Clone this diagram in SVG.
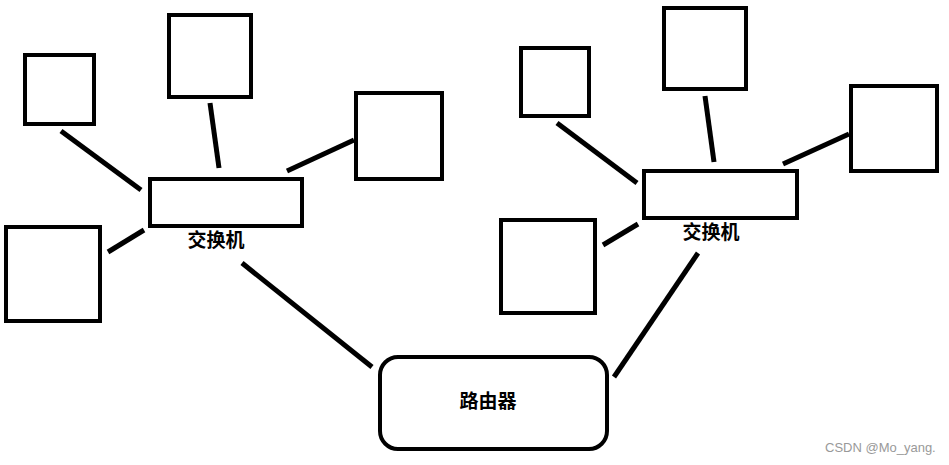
<svg xmlns="http://www.w3.org/2000/svg" width="949" height="465" viewBox="0 0 949 465">
<style>
.n{fill:#fff;stroke:#000;stroke-width:4}
.c line{stroke:#000;stroke-width:5;stroke-linecap:butt}
.t{font-family:"Noto Sans CJK SC","Noto Sans",sans-serif;font-weight:bold;font-size:19px;fill:#000;text-anchor:middle}
.w{font-family:"Liberation Sans",Arial,sans-serif;font-size:13px;fill:#999}
</style>
<rect width="949" height="465" fill="#fff"/>
<g class="c" id="connectors">
<line x1="61" y1="131" x2="141" y2="190"/>
<line x1="210" y1="103" x2="219" y2="168"/>
<line x1="287" y1="171" x2="354" y2="140"/>
<line x1="108" y1="252" x2="144" y2="230"/>
<line x1="242" y1="263" x2="372" y2="367"/>
<line x1="557" y1="123" x2="637" y2="183"/>
<line x1="705" y1="96" x2="714" y2="162"/>
<line x1="783" y1="164" x2="849" y2="134"/>
<line x1="603" y1="245" x2="638" y2="224"/>
<line x1="698" y1="253" x2="614" y2="377"/>
</g>
<g id="pc1"><rect class="n" x="25" y="55" width="69" height="69"/></g>
<g id="pc2"><rect class="n" x="169" y="15" width="82" height="82"/></g>
<g id="pc3"><rect class="n" x="356" y="93" width="86" height="86"/></g>
<g id="pc4"><rect class="n" x="6" y="227" width="94" height="94"/></g>
<g id="switch1"><rect class="n" x="150" y="179" width="152" height="47"/><text class="t" x="216" y="247">交换机</text></g>
<g id="pc5"><rect class="n" x="521" y="48" width="68" height="68"/></g>
<g id="pc6"><rect class="n" x="664" y="8" width="82" height="81"/></g>
<g id="pc7"><rect class="n" x="851" y="86" width="86" height="85"/></g>
<g id="pc8"><rect class="n" x="501" y="220" width="94" height="93"/></g>
<g id="switch2"><rect class="n" x="644" y="171" width="153" height="47"/><text class="t" x="711" y="239">交换机</text></g>
<g id="router"><rect class="n" x="380" y="357" width="227" height="92" rx="18"/><text class="t" x="488" y="408">路由器</text></g>
<text class="w" x="825" y="452">CSDN @Mo_yang.</text>
</svg>
